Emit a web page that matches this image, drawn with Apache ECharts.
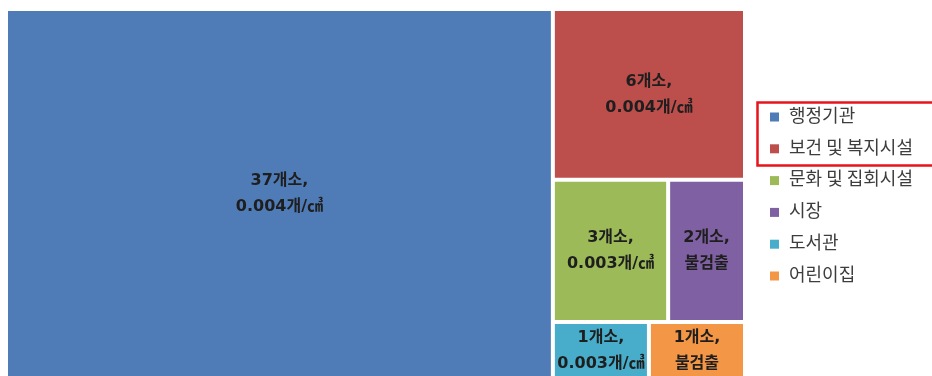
<!DOCTYPE html>
<html><head><meta charset="utf-8">
<script src="https://cdn.jsdelivr.net/npm/echarts@6/dist/echarts.min.js"></script>
<style>html,body{margin:0;padding:0;background:#fff}#c{width:932px;height:376px}</style>
</head><body><div id="c"></div>
<script>
const categories = ['행정기관', '보건 및 복지시설', '문화 및 집회시설', '시장', '도서관', '어린이집'];
const counts = [37, 6, 3, 2, 1, 1];
const densities = ['0.004', '0.004', '0.003', '불검출', '0.003', '불검출'];
const colors = ['#4F7CB6', '#BC4E4B', '#9CBB58', '#7F60A3', '#48ADCA', '#F39646'];

const chart = echarts.init(document.getElementById('c'));
const data = categories.map((name, i) => ({
  name, value: counts[i], density: densities[i],
  itemStyle: { color: colors[i] }
}));

const legendGraphics = [];
categories.forEach((name, i) => {
  const y = 117 + i * 31.8;
  legendGraphics.push({ type: 'rect', left: 770, top: y - 4.5, shape: { width: 9, height: 9 }, style: { fill: colors[i] }, z: 10 });
  legendGraphics.push({ type: 'text', left: 789, top: y - 11, style: { text: name, fill: '#3d3d3d', font: '18px "Noto Sans CJK KR", sans-serif' }, z: 10 });
});
legendGraphics.push({ type: 'rect', left: 755, top: 100, shape: { width: 200, height: 63 }, style: { fill: 'none', stroke: '#E8141C', lineWidth: 2.5 }, z: 11 });

chart.setOption({
  animation: false,
  series: [{
    type: 'treemap',
    left: 8, top: 11, width: 735, height: 366,
    roam: false, nodeClick: false, sort: false,
    breadcrumb: { show: false },
    levels: [{ itemStyle: { gapWidth: 4, borderWidth: 0 } }],
    itemStyle: { borderWidth: 0, gapWidth: 4 },
    label: {
      show: true, position: 'inside', align: 'center', verticalAlign: 'middle',
      overflow: 'none', lineOverflow: 'none', padding: 0,
      color: '#1e1e1e', fontWeight: 'bold', fontSize: 16, lineHeight: 26,
      fontFamily: '"DejaVu Sans", "Noto Sans CJK KR", sans-serif',
      formatter: p => p.value + '개소,\n' + (p.data.density === '불검출' ? '불검출' : p.data.density + '개/㎤')
    },
    data
  }],
  graphic: legendGraphics
});
</script></body></html>
